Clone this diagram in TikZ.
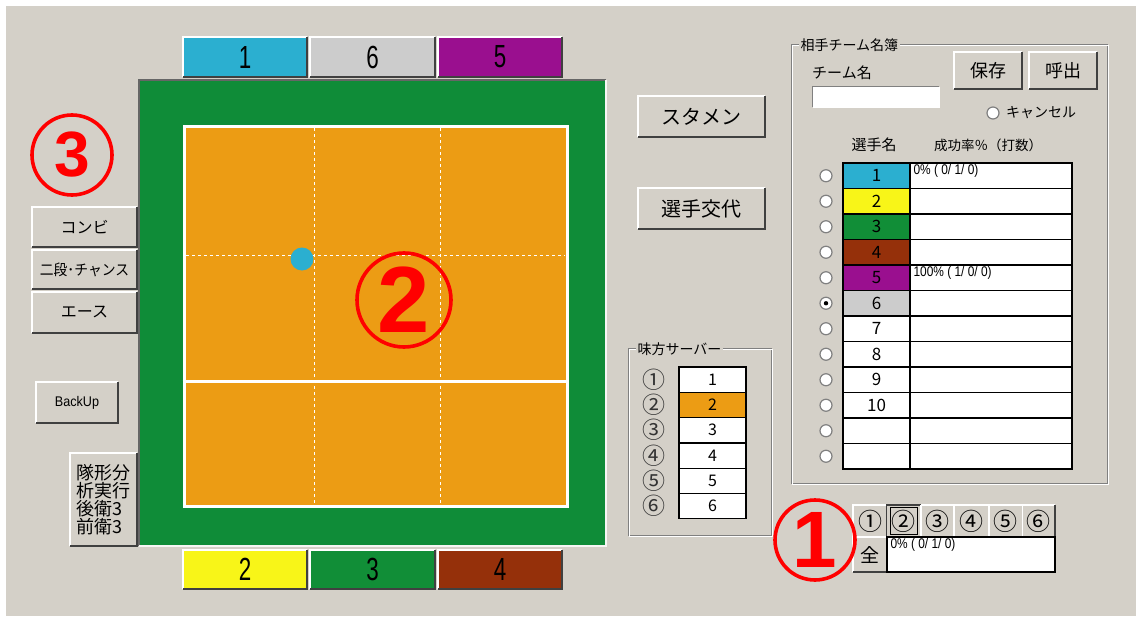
\documentclass[tikz,border=0pt]{standalone}
\usepackage{fontspec}
\setmainfont{Noto Sans CJK JP}
\newfontfamily\lsans{Liberation Sans}
\usetikzlibrary{fit,calc}
\definecolor{uibg}{HTML}{D4D0C8}
\definecolor{uidark}{HTML}{404040}
\definecolor{uimid}{HTML}{808080}
\definecolor{pcyan}{HTML}{2BAFD0}
\definecolor{pgray}{HTML}{CCCCCC}
\definecolor{ppurple}{HTML}{9A0F8F}
\definecolor{pyellow}{HTML}{F8F518}
\definecolor{pgreen}{HTML}{118E37}
\definecolor{pbrown}{HTML}{95300A}
\definecolor{porange}{HTML}{EC9C14}
\definecolor{courtgreen}{HTML}{0F8C38}
\newcommand\fs[1]{\fontsize{#1}{#1}\selectfont}
% raised button: [style]{name}{x1}{y1}{x2}{y2}{text}
\newcommand\uibtn[7][]{%
  \node[btnbox,fit={(#3,#4) (#5,#6)},#1] (#2) {};
  \draw[white,line width=1.5] (#2.south west) -- (#2.north west) -- (#2.north east);
  \draw[uidark,line width=1.5] (#2.south west) -- (#2.south east) -- (#2.north east);
  \node[#1,fill=none,draw=none,inner sep=0pt] (#2t) at (#2.center) {#7};}
% sunken white field
\newcommand\uifield[5]{%
  \node[fieldbox,fit={(#2,#3) (#4,#5)}] (#1) {};
  \draw[uimid,line width=1.2] (#1.south west) -- (#1.north west) -- (#1.north east);
  \draw[white,line width=1.2] (#1.south west) -- (#1.south east) -- (#1.north east);}
% table cell: [style]{name}{x1}{y1}{x2}{y2}{text}
\newcommand\uicell[7][]{%
  \node[cell,fit={(#3,#4) (#5,#6)},#1] (#2) {};
  \node[#1,fill=none,draw=none,inner sep=0pt] (#2t) at (#2.center) {#7};}
% group box
\newcommand\uigroup[6]{%
  \node[fit={(#2,#3) (#4,#5)},inner sep=0pt] (#1) {};
  \draw[uimid,line width=1] (#1.north west) rectangle (#1.south east);
  \draw[white,line width=1] ([shift={(1pt,-1pt)}]#1.north west) rectangle ([shift={(1pt,-1pt)}]#1.south east);
  \node[fill=uibg,inner sep=1.5pt,anchor=west,font=\fs{14}] (#1t) at ([xshift=7pt]#1.north west) {#6};}
\tikzset{
  btnbox/.style={fill=uibg,inner sep=0pt},
  fieldbox/.style={fill=white,inner sep=0pt},
  cell/.style={draw=black,line width=1.3,inner sep=0pt},
  radio/.style={circle,fill=white,draw=uimid,line width=1.2,minimum size=12pt,inner sep=0pt},
  redmark/.style={circle,draw=red,line width=3.6,inner sep=0pt,text=red,font=\lsans\bfseries},
  tabnum/.style={font=\lsans\fs{32}},
  small/.style={font=\lsans\fs{14}},
}
\begin{document}
\begin{tikzpicture}[x=1pt,y=-1pt]
\useasboundingbox (0,0) rectangle (1136,618);
\fill[white] (0,0) rectangle (1136,618);
\fill[uibg] (6,6) rectangle (1136,616);

% ---------- court ----------
\node[fit={(139,80) (606,546)},inner sep=0pt,fill=courtgreen] (outer) {};
\draw[uidark!80,line width=2] (outer.south west) -- (outer.north west) -- (outer.north east);
\draw[white!80!uibg,line width=1.5] (outer.south west) -- (outer.south east) -- (outer.north east);
\node[fit={(184,126) (567,506)},inner sep=0pt,fill=porange,draw=white,line width=3] (court) {};
\draw[white,line width=1,dash pattern=on 3pt off 3pt] (314,128) -- (314,504);
\draw[white,line width=1,dash pattern=on 3pt off 3pt] (440,128) -- (440,504);
\draw[white,line width=1,dash pattern=on 3pt off 3pt] (186,255) -- (565,255);
\draw[white,line width=3] (court.west |- 0,381) -- (court.east |- 0,381);
\node[circle,fill=pcyan,minimum size=23pt,inner sep=0pt] (ball) at (302,259) {};

% ---------- tabs ----------
\uibtn[fill=pcyan,tabnum]{t1}{183}{37}{307}{77}{\scalebox{0.7}[1]{1}}
\uibtn[fill=pgray,tabnum]{t6}{310}{37}{435}{77}{\scalebox{0.7}[1]{6}}
\uibtn[fill=ppurple,tabnum]{t5}{438}{37}{562}{77}{\scalebox{0.7}[1]{5}}
\uibtn[fill=pyellow,tabnum]{b2}{183}{550}{307}{589}{\scalebox{0.7}[1]{2}}
\uibtn[fill=pgreen,tabnum]{b3}{310}{550}{435}{589}{\scalebox{0.7}[1]{3}}
\uibtn[fill=pbrown,tabnum]{b4}{438}{550}{562}{589}{\scalebox{0.7}[1]{4}}

% ---------- left buttons ----------
\uibtn[font=\fs{16}]{combi}{32}{207}{137}{247}{コンビ}
\uibtn[font=\fs{15}]{chance}{32}{250}{137}{289}{\scalebox{0.92}[1]{二段･チャンス}}
\uibtn[font=\fs{16}]{ace}{32}{292}{137}{333}{エース}
\uibtn[font=\lsans\fs{14}]{backup}{36}{382}{118}{423}{\scalebox{0.9}[1]{BackUp}}
\uibtn{formation}{70}{453}{137}{546}{}
\node[font=\fs{18},align=left,anchor=west,inner sep=0pt] (formtext) at ($(formation.west)+(6pt,0)$)
  {\baselineskip=19.5pt 隊形分\\析実行\\後衛3\\前衛3};

% ---------- middle buttons ----------
\uibtn[font=\fs{20}]{stamen}{638}{96}{765}{137}{スタメン}
\uibtn[font=\fs{20}]{swap}{638}{188}{765}{229}{選手交代}

% ---------- our server group ----------
\uigroup{server}{629}{349}{771}{535}{味方サーバー}
\foreach \i/\c/\col in {1/①/white,2/②/porange,3/③/white,4/④/white,5/⑤/white,6/⑥/white}{
  \pgfmathsetmacro\ya{367+25.3*(\i-1)}
  \pgfmathsetmacro\yb{367+25.3*\i}
  \uicell[fill=\col,font=\fs{16}]{srv\i}{679}{\ya}{746}{\yb}{\i}
  \node[font=\fs{23},text=black!80] (srvc\i) at (654,{(\ya+\yb)/2}) {\c};
}

% ---------- opponent roster group ----------
\uigroup{roster}{792}{45}{1107}{483}{相手チーム名簿}
\node[font=\fs{15},anchor=west,inner sep=0pt] (teamlbl) at (812,73) {チーム名};
\uifield{teamname}{813}{87}{939}{107}
\uibtn[font=\fs{18}]{btnsave}{954}{52}{1022}{89}{保存}
\uibtn[font=\fs{18}]{btnload}{1029}{52}{1097}{89}{呼出}
\node[radio] (rcancel) at (993,113) {};
\node[font=\fs{14},anchor=west,inner sep=0pt] (cancel) at (1006,113) {キャンセル};
\node[font=\fs{15}] (hname) at (874,145) {選手名};
\node[font=\fs{13.5}] (hrate) at (988,145) {成功率％（打数）};
\foreach \i/\col/\lab in {1/pcyan/1,2/pyellow/2,3/pgreen/3,4/pbrown/4,5/ppurple/5,6/pgray/6,7/white/7,8/white/8,9/white/9,10/white/10,11/white/,12/white/}{
  \pgfmathsetmacro\ya{163+25.5*(\i-1)}
  \pgfmathsetmacro\yb{163+25.5*\i}
  \uicell[fill=\col,font=\fs{17}]{pn\i}{843}{\ya}{910}{\yb}{\lab}
  \uicell[fill=white]{pr\i}{910}{\ya}{1072}{\yb}{}
  \node[radio] (rd\i) at (826,{(\ya+\yb)/2}) {};
}
\fill[black] (rd6) circle (2.2pt);
\node[small,anchor=north west,inner sep=0pt] (rate1) at ([shift={(4pt,-2pt)}]pr1.north west) {\scalebox{0.85}[1]{0\% ( 0/ 1/ 0)}};
\node[small,anchor=north west,inner sep=0pt] (rate5) at ([shift={(4pt,-2pt)}]pr5.north west) {\scalebox{0.85}[1]{100\% ( 1/ 0/ 0)}};

% ---------- rotation buttons ----------
\foreach \i/\c/\xa/\xb in {1/①/853.3/886.7,2/②/886.7/921,3/③/921/954.3,4/④/954.3/989,5/⑤/989/1022.7,6/⑥/1022.7/1055}{
  \uibtn[font=\fs{24}]{rot\i}{\xa}{505}{\xb}{537}{\c}
}
\draw[uidark,line width=1.5] (rot2.south west) -- (rot2.north west) -- (rot2.north east);
\draw[white,line width=1.5] (rot2.south west) -- (rot2.south east) -- (rot2.north east);
\draw[black,line width=1] ([shift={(4pt,-3pt)}]rot2.north west) rectangle ([shift={(-4pt,3pt)}]rot2.south east);
\uibtn[font=\fs{19}]{all}{853}{537}{887}{572}{全}
\uicell[fill=white]{allrate}{887}{537}{1055}{572}{}
\node[small,anchor=north west,inner sep=0pt] (allratetxt) at ([shift={(4pt,-2pt)}]allrate.north west) {\scalebox{0.85}[1]{0\% ( 0/ 1/ 0)}};

% ---------- red markers ----------
\node[redmark,minimum size=80pt,font=\lsans\bfseries\fs{64}] (m3) at (72,155) {3};
\node[redmark,minimum size=94pt,font=\lsans\bfseries\fs{94}] (m2) at (404,300) {2};
\node[redmark,minimum size=80pt,font=\lsans\bfseries\fs{80}] (m1) at (815,540) {1};
\end{tikzpicture}
\end{document}
